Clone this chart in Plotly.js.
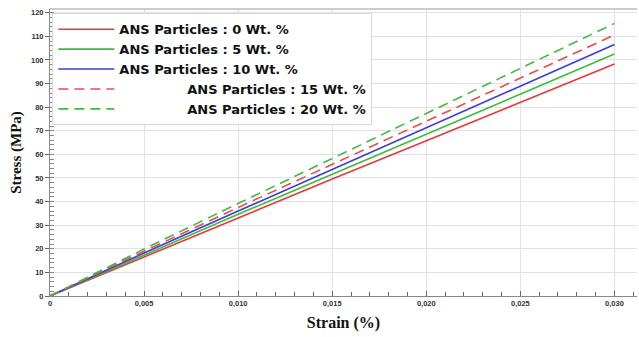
<!DOCTYPE html>
<html><head><meta charset="utf-8">
<script src="https://cdn.plot.ly/plotly-3.0.1.min.js"></script>
<style>body{margin:0;background:#fff}#c{width:639px;height:337px}</style>
</head><body><div id="c"></div>
<script>
const strain = [0, 0.005, 0.010, 0.015, 0.020, 0.025, 0.030];
const s0  = [0, 16.6, 33.2, 49.6, 65.8, 82.0, 98.3];
const s5  = [0, 17.4, 34.6, 51.6, 68.5, 85.5, 102.5];
const s10 = [0, 18.2, 36.0, 53.7, 71.3, 88.9, 106.6];
const s15 = [0, 19.0, 37.5, 55.8, 74.0, 92.3, 110.6];
const s20 = [0, 19.9, 39.2, 58.3, 77.3, 96.4, 115.5];
const names = ['ANS Particles : 0 Wt. %','ANS Particles : 5 Wt. %','ANS Particles : 10 Wt. %','ANS Particles : 15 Wt. %','ANS Particles : 20 Wt. %'];
const xTicks = [0, 0.005, 0.010, 0.015, 0.020, 0.025, 0.030];
const xTickText = ['0','0,005','0,010','0,015','0,020','0,025','0,030'];
const yTicks = [0,10,20,30,40,50,60,70,80,90,100,110,120];

const series = [s0,s5,s10,s15,s20];
const colors = ['#e8393a','#3dbb3d','#3b3bd6','#ee4a4a','#45b845'];
const dashes = ['solid','solid','solid','10px,6px','10px,6px'];
const pad = '\u00a0'.repeat(15);
const traces = series.map((s,i)=>({
  x: strain, y: s, type:'scatter', mode:'lines',
  name: (i>=3 ? pad : '') + names[i],
  line:{color:colors[i], width:1.6, dash:dashes[i]}
}));

const layout = {
  width:639, height:337,
  margin:{l:50, r:2, t:9, b:41},
  paper_bgcolor:'#fff', plot_bgcolor:'#fff',
  showlegend:true,
  legend:{x:0.004, y:0.985, xanchor:'left', yanchor:'top',
    bgcolor:'#fff', bordercolor:'#d8d8d8', borderwidth:1,
    font:{family:'DejaVu Sans', size:13, color:'#111', weight:'bold'},
    itemwidth:56, tracegroupgap:0},
  xaxis:{range:[0,0.0312], tickvals:xTicks, ticktext:xTickText,
    showgrid:true, gridcolor:'#e2e2e2', gridwidth:1,
    showline:true, linecolor:'#888', linewidth:1,
    ticks:'inside', ticklen:5, tickcolor:'#666',
    minor:{dtick:0.001, ticks:'inside', ticklen:4, tickcolor:'#666', showgrid:false},
    tickfont:{family:'Arial', size:7.5, color:'#333', weight:'bold'},
    zeroline:false,
    title:{text:'Strain (%)', font:{family:'Times New Roman, Liberation Serif', size:16, color:'#111', weight:'bold'}, standoff:9}},
  yaxis:{range:[0,121.6], tickvals:yTicks,
    showgrid:true, gridcolor:'#e2e2e2', gridwidth:1,
    showline:true, linecolor:'#888', linewidth:1,
    ticks:'outside', ticklen:4, tickcolor:'#666',
    minor:{dtick:2, ticks:'inside', ticklen:4, tickcolor:'#888', showgrid:false},
    tickfont:{family:'Arial', size:7.5, color:'#333', weight:'bold'},
    zeroline:false,
    title:{text:'Stress (MPa)', font:{family:'Times New Roman, Liberation Serif', size:15, color:'#111', weight:'bold'}, standoff:5}},
  shapes:[{type:'line', xref:'paper', yref:'paper', x0:0, x1:1, y0:1, y1:1, line:{color:'#bbb', width:1.5}}]
};
Plotly.newPlot('c', traces, layout, {displayModeBar:false, staticPlot:true});
</script></body></html>
